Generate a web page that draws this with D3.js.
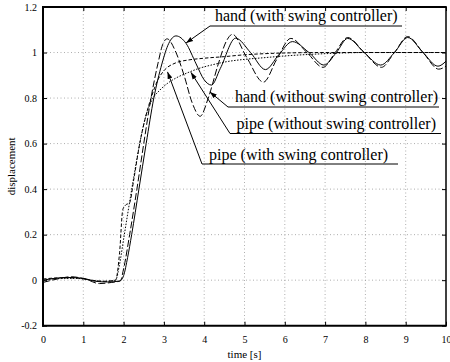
<!DOCTYPE html>
<html><head><meta charset="utf-8">
<script src="https://cdn.jsdelivr.net/npm/d3@7"></script>
<style>
html,body{margin:0;padding:0;background:#fff;}
svg{display:block;font-family:"Liberation Serif","Times New Roman",serif;}
</style></head>
<body><svg id="chart" width="450" height="362"></svg>
<script>
// ---- data ----
const xTicks = [0,1,2,3,4,5,6,7,8,9,10];
const yTicks = [-0.2,0,0.2,0.4,0.6,0.8,1,1.2];
const yTickLabels = ["-0.2","0","0.2","0.4","0.6","0.8","1","1.2"];

const handWithT = [0,0.3,0.6,1.0,1.3,1.6,1.9,2.0,2.1,2.2,2.38,2.56,2.75,2.95,3.12,3.3,3.55,3.8,4.0,4.18,4.4,4.78,5.15,5.52,5.85,6.19,6.6,6.97,7.28,7.56,7.97,8.38,8.72,9.05,9.43,9.8,10];
const handWithV = [0,0.008,0.012,0.008,-0.005,-0.008,-0.004,0.02,0.1,0.2,0.4,0.6,0.8,0.95,1.04,1.073,1.04,0.95,0.88,0.857,0.93,1.063,1.0,0.925,0.99,1.048,1.0,0.945,1.0,1.062,1.0,0.945,1.0,1.066,1.0,0.94,0.962];

const handWithoutT = [0,0.35,0.7,1.05,1.4,1.7,1.92,2.0,2.15,2.33,2.5,2.68,2.85,2.98,3.08,3.3,3.5,3.7,3.9,4.1,4.35,4.55,4.7,5.05,5.47,5.8,6.15,6.55,6.95,7.25,7.56,7.97,8.4,8.72,9.05,9.43,9.82,10];
const handWithoutV = [-0.01,0.005,0.015,0.005,-0.015,-0.01,-0.003,0.05,0.2,0.4,0.6,0.8,0.95,1.04,1.06,1.0,0.9,0.78,0.72,0.8,0.95,1.05,1.08,0.98,0.87,0.97,1.062,1.0,0.935,1.0,1.066,1.0,0.935,1.0,1.07,1.0,0.927,0.94];

const pipeWithT = [0,0.4,0.8,1.2,1.5,1.8,1.9,1.98,2.05,2.15,2.25,2.4,2.55,2.7,2.85,3.0,3.3,3.6,4.0,4.5,5.0,5.5,6.0,7.0,8,9,10];
const pipeWithV = [0.005,0.01,0.01,0.0,-0.005,0.0,0.12,0.31,0.33,0.34,0.44,0.6,0.72,0.81,0.88,0.92,0.955,0.967,0.975,0.982,0.99,0.995,0.998,1.0,1.0,1.0,1.0];

const pipeWithoutT = [0,0.4,0.8,1.2,1.5,1.8,1.9,2.0,2.1,2.25,2.4,2.55,2.7,2.9,3.1,3.3,3.6,3.9,4.2,4.5,5.0,5.4,6.0,7.0,8.0,9,10];
const pipeWithoutV = [0,0.008,0.008,0.0,-0.005,0.0,0.07,0.18,0.29,0.45,0.6,0.72,0.79,0.835,0.866,0.888,0.912,0.932,0.946,0.958,0.97,0.976,0.985,0.995,1.0,1.0,1.0];

const labels = ["hand (with swing controller)","hand (without swing controller)","pipe (without swing controller)","pipe (with swing controller)"];
// arrow tips in data coordinates
const tipT = [3.55,4.14,3.67,3.09];
const tipV = [1.042,0.827,0.913,0.915];

// ---- layout ----
const L = 43, R = 446, T = 7, B = 325.7;
const svg = d3.select("#chart");
const x = d3.scaleLinear().domain([0,10]).range([L,R]);
const y = d3.scaleLinear().domain([-0.2,1.2]).range([B,T]);

// grid
const grid = svg.append("g");
grid.selectAll("line.v").data(xTicks.slice(1,-1)).join("line").attr("class","v")
  .attr("x1",d=>x(d)).attr("x2",d=>x(d)).attr("y1",T).attr("y2",B)
  .attr("stroke","#999").attr("stroke-width",0.8).attr("stroke-dasharray","1,2.5");
grid.selectAll("line.h").data(yTicks.slice(1,-1)).join("line").attr("class","h")
  .attr("y1",d=>y(d)).attr("y2",d=>y(d)).attr("x1",L).attr("x2",R)
  .attr("stroke","#999").attr("stroke-width",0.8).attr("stroke-dasharray","1,2.5");

// axes (ticks inward)
const fmtY = d => yTickLabels[yTicks.indexOf(d)];
const ax = svg.append("g").attr("font-size",10);
const axB = ax.append("g").attr("transform",`translate(0,${B})`)
  .call(d3.axisBottom(x).tickValues(xTicks).tickSize(-4).tickPadding(10).tickFormat(d3.format("d")));
const axL = ax.append("g").attr("transform",`translate(${L},0)`)
  .call(d3.axisLeft(y).tickValues(yTicks).tickSize(-4).tickPadding(6).tickFormat(fmtY));
const axT = ax.append("g").attr("transform",`translate(0,${T})`)
  .call(d3.axisTop(x).tickValues(xTicks).tickSize(-4).tickFormat(""));
const axR = ax.append("g").attr("transform",`translate(${R},0)`)
  .call(d3.axisRight(y).tickValues(yTicks).tickSize(-4).tickFormat(""));
[axB,axL,axT,axR].forEach(g=>{
  g.attr("font-size",10).attr("font-family","Liberation Serif");
  g.select(".domain").remove();
  g.selectAll("text").attr("fill","#000");
  g.selectAll(".tick line").attr("stroke","#000");
});
// frame
svg.append("line").attr("x1",L).attr("x2",L).attr("y1",T-1).attr("y2",B+1).attr("stroke","#000").attr("stroke-width",2);
svg.append("line").attr("x1",L-1).attr("x2",R+0.75).attr("y1",B).attr("y2",B).attr("stroke","#000").attr("stroke-width",2);
svg.append("line").attr("x1",L-1).attr("x2",R+0.75).attr("y1",T).attr("y2",T).attr("stroke","#000").attr("stroke-width",2);
svg.append("line").attr("x1",R).attr("x2",R).attr("y1",T).attr("y2",B).attr("stroke","#000").attr("stroke-width",1.5);

// axis titles
svg.append("text").attr("x",(L+R)/2).attr("y",357.5).attr("text-anchor","middle")
  .attr("font-size",11).text("time [s]");
svg.append("text").attr("transform",`translate(15,${(T+B)/2}) rotate(-90)`).attr("text-anchor","middle")
  .attr("font-size",11).text("displacement");

// curves
svg.append("clipPath").attr("id","clip").append("rect")
  .attr("x",L).attr("y",T).attr("width",R-L).attr("height",B-T);
const line = d3.line().x(d=>x(d[0])).y(d=>y(d[1])).curve(d3.curveMonotoneX);
const series = [
  {t:handWithT, v:handWithV, dash:null},
  {t:handWithoutT, v:handWithoutV, dash:"7,2.5"},
  {t:pipeWithT, v:pipeWithV, dash:"3.5,2"},
  {t:pipeWithoutT, v:pipeWithoutV, dash:"1.5,1.5"}
];
const cg = svg.append("g").attr("clip-path","url(#clip)");
series.forEach(s=>{
  cg.append("path").datum(d3.zip(s.t,s.v)).attr("d",line)
    .attr("fill","none").attr("stroke","#000").attr("stroke-width",1)
    .attr("stroke-dasharray",s.dash);
});

// annotations (text position, underline, leader)
const ann = [
  {tx:215, ty:21,  ux0:210, ux1:402, uy:26},
  {tx:235, ty:102, ux0:228, ux1:439, uy:107},
  {tx:236.5, ty:129, ux0:230, ux1:441, uy:133.5},
  {tx:209, ty:159.5, ux0:202, ux1:398, uy:164}
];
svg.append("defs").append("marker").attr("id","arr").attr("viewBox","0 0 10 10")
  .attr("refX",10).attr("refY",5).attr("markerWidth",7).attr("markerHeight",7)
  .attr("markerUnits","userSpaceOnUse").attr("orient","auto")
  .append("path").attr("d","M0,1.5L10,5L0,8.5Z").attr("fill","#000");
const ag = svg.append("g");
ann.forEach((a,i)=>{
  ag.append("text").attr("x",a.tx).attr("y",a.ty).attr("font-size",16).text(labels[i]);
  ag.append("line").attr("x1",a.ux0).attr("x2",a.ux1).attr("y1",a.uy).attr("y2",a.uy)
    .attr("stroke","#000").attr("stroke-width",1);
  ag.append("line").attr("x1",a.ux0).attr("y1",a.uy).attr("x2",x(tipT[i])).attr("y2",y(tipV[i]))
    .attr("stroke","#000").attr("stroke-width",1).attr("marker-end","url(#arr)");
});
</script></body></html>
